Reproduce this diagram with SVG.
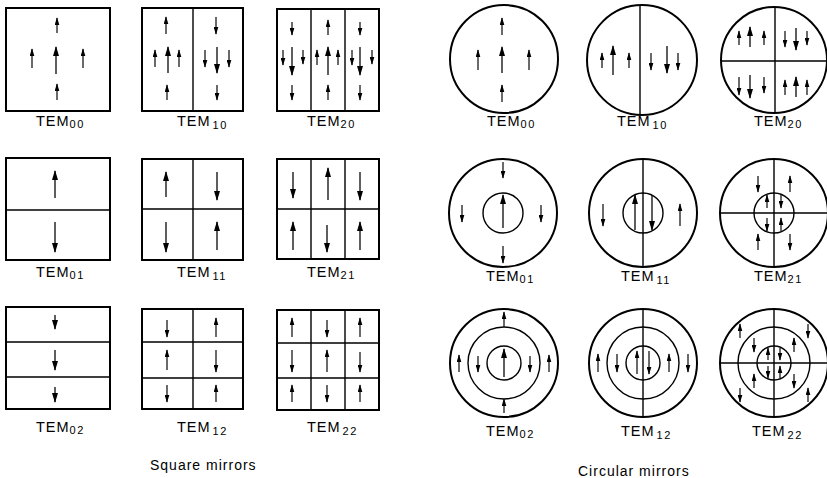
<svg xmlns="http://www.w3.org/2000/svg" width="827" height="478" viewBox="0 0 827 478">
<style>
.f{fill:none;stroke:#000;stroke-width:2}
.d{fill:none;stroke:#000;stroke-width:1.4}
.s{fill:none;stroke:#111;stroke-width:1.25;marker-end:url(#h)}
.b{fill:none;stroke:#111;stroke-width:1.35;marker-end:url(#H)}
text{font-family:"Liberation Sans",Arial,sans-serif;font-size:14.5px;fill:#000;letter-spacing:1px}
.sub{font-size:11px;letter-spacing:1.4px}
.cap{font-size:14px;letter-spacing:1px}
</style>
<defs>
<marker id="h" viewBox="0 0 10 6" refX="9" refY="3" markerWidth="8" markerHeight="5" markerUnits="userSpaceOnUse" orient="auto"><path d="M0,0 L10,3 L0,6 Z"/></marker>
<marker id="H" viewBox="0 0 10 6" refX="9" refY="3" markerWidth="10" markerHeight="6" markerUnits="userSpaceOnUse" orient="auto"><path d="M0,0 L10,3 L0,6 Z"/></marker>
</defs>

<!-- square mirrors -->
<g id="sq00">
<rect class="f" x="6" y="8" width="104" height="103"/>
<path class="s" d="M57 33V18"/><path class="s" d="M32 68V49"/><path class="b" d="M56 74V47"/><path class="s" d="M83 68V49"/><path class="s" d="M57 100V84"/>
<text x="36" y="126">TEM<tspan class="sub" dy="2">00</tspan></text>
</g>
<g id="sq10">
<rect class="f" x="142" y="8" width="101" height="103"/><path class="d" d="M193 8V111"/>
<path class="s" d="M166 34V17"/><path class="s" d="M155 67V50"/><path class="b" d="M168 73V47"/><path class="s" d="M179 67V50"/><path class="s" d="M167 100V85"/>
<path class="s" d="M216 17V34"/><path class="s" d="M205 50V67"/><path class="b" d="M217 47V73"/><path class="s" d="M229 50V67"/><path class="s" d="M217 85V100"/>
<text x="177" y="126">TEM<tspan class="sub" dx="2" dy="3">10</tspan></text>
</g>
<g id="sq20">
<rect class="f" x="277" y="9" width="102" height="102"/><path class="d" d="M311 9V111M345 9V111"/>
<path class="s" d="M292 22V35"/><path class="s" d="M283 50V65"/><path class="b" d="M292 47V75"/><path class="s" d="M303 50V64"/><path class="s" d="M292 85V100"/>
<path class="s" d="M328 35V20"/><path class="s" d="M317 65V50"/><path class="b" d="M328 75V47"/><path class="s" d="M338 65V50"/><path class="s" d="M328 100V85"/>
<path class="s" d="M360 22V35"/><path class="s" d="M352 50V65"/><path class="b" d="M360 47V75"/><path class="s" d="M372 50V64"/><path class="s" d="M360 85V100"/>
<text x="307" y="126">TEM<tspan class="sub" dy="2">20</tspan></text>
</g>
<g id="sq01">
<rect class="f" x="6" y="158" width="104" height="102"/><path class="d" d="M6 210H110"/>
<path class="b" d="M55 198V171"/><path class="b" d="M55 222V252"/>
<text x="36" y="277">TEM<tspan class="sub" dy="2">01</tspan></text>
</g>
<g id="sq11">
<rect class="f" x="142" y="159" width="101" height="101"/><path class="d" d="M193 159V260M142 209H243"/>
<path class="b" d="M166 197V172"/><path class="b" d="M217 172V200"/><path class="b" d="M166 222V252"/><path class="b" d="M217 250V222"/>
<text x="177" y="277">TEM<tspan class="sub" dx="2" dy="3">11</tspan></text>
</g>
<g id="sq21">
<rect class="f" x="277" y="159" width="102" height="100"/><path class="d" d="M311 159V259M345 159V259M277 209H379"/>
<path class="b" d="M293 172V198"/><path class="b" d="M328 200V168"/><path class="b" d="M360 172V200"/>
<path class="b" d="M293 250V222"/><path class="b" d="M327 225V252"/><path class="b" d="M360 250V222"/>
<text x="307" y="277">TEM<tspan class="sub" dy="2">21</tspan></text>
</g>
<g id="sq02">
<rect class="f" x="6" y="307" width="104" height="102"/><path class="d" d="M6 342H110M6 377H110"/>
<path class="b" d="M55 315V329"/><path class="b" d="M55 350V370"/><path class="b" d="M55 387V402"/>
<text x="36" y="432">TEM<tspan class="sub" dy="2">02</tspan></text>
</g>
<g id="sq12">
<rect class="f" x="142" y="309" width="101" height="100"/><path class="d" d="M193 309V409M142 342H243M142 378H243"/>
<path class="s" d="M167 320V337"/><path class="s" d="M216 337V318"/>
<path class="s" d="M167 370V350"/><path class="s" d="M216 350V372"/>
<path class="s" d="M167 385V402"/><path class="s" d="M216 402V385"/>
<text x="177" y="432">TEM<tspan class="sub" dx="2" dy="3">12</tspan></text>
</g>
<g id="sq22">
<rect class="f" x="277" y="310" width="102" height="100"/><path class="d" d="M311 310V410M345 310V410M277 343H379M277 378H379"/>
<path class="s" d="M292 337V318"/><path class="s" d="M327 320V337"/><path class="s" d="M360 337V318"/>
<path class="s" d="M292 350V372"/><path class="s" d="M327 372V350"/><path class="s" d="M360 352V372"/>
<path class="s" d="M292 402V385"/><path class="s" d="M327 385V402"/><path class="s" d="M360 402V385"/>
<text x="307" y="432">TEM<tspan class="sub" dx="2" dy="3">22</tspan></text>
</g>
<text class="cap" x="150" y="470">Square mirrors</text>

<!-- circular mirrors -->
<g id="ci00">
<circle class="f" cx="504" cy="59" r="54"/>
<path class="s" d="M502 35V18"/><path class="s" d="M478 70V50"/><path class="b" d="M502 73V47"/><path class="s" d="M529 70V50"/><path class="s" d="M502 102V85"/>
<text x="487" y="126">TEM<tspan class="sub" dy="2">00</tspan></text>
</g>
<g id="ci10">
<circle class="f" cx="642" cy="60" r="55"/><path class="d" d="M640 5V115"/>
<path class="s" d="M602 68V53"/><path class="b" d="M613 75V46"/><path class="s" d="M629 68V53"/>
<path class="s" d="M651 53V70"/><path class="b" d="M667 46V73"/><path class="s" d="M678 53V70"/>
<text x="617" y="126">TEM<tspan class="sub" dx="2" dy="3">10</tspan></text>
</g>
<g id="ci20">
<circle class="f" cx="774" cy="60" r="53"/><path class="d" d="M775 7V113M721 61H827"/>
<path class="s" d="M739 45V31"/><path class="b" d="M750 47V27"/><path class="s" d="M764 45V31"/>
<path class="s" d="M785 31V47"/><path class="b" d="M796 28V50"/><path class="s" d="M807 31V45"/>
<path class="s" d="M739 77V95"/><path class="b" d="M750 75V98"/><path class="s" d="M764 77V93"/>
<path class="s" d="M785 95V80"/><path class="b" d="M796 97V77"/><path class="s" d="M807 95V80"/>
<text x="754" y="126">TEM<tspan class="sub" dy="2">20</tspan></text>
</g>
<g id="ci01">
<circle class="f" cx="503" cy="213" r="54"/><circle class="d" cx="503" cy="213" r="20"/>
<path class="s" d="M503 162V178"/><path class="s" d="M462 205V222"/><path class="b" d="M503 228V195"/><path class="s" d="M541 205V222"/><path class="s" d="M503 246V263"/>
<text x="486" y="281">TEM<tspan class="sub" dy="2">01</tspan></text>
</g>
<g id="ci11">
<circle class="f" cx="643" cy="213" r="54"/><circle class="d" cx="643" cy="213" r="20"/><path class="d" d="M643 159V267"/>
<path class="s" d="M603 204V226"/><path class="b" d="M635 230V195"/><path class="b" d="M652 195V230"/><path class="s" d="M680 226V204"/>
<text x="621" y="281">TEM<tspan class="sub" dx="2" dy="3">11</tspan></text>
</g>
<g id="ci21">
<circle class="f" cx="774" cy="213" r="54"/><circle class="d" cx="774" cy="213" r="20"/><path class="d" d="M774 159V267M720 213H828"/>
<path class="s" d="M758 176V192"/><path class="s" d="M790 192V176"/>
<path class="s" d="M767 208V195"/><path class="s" d="M781 195V208"/>
<path class="s" d="M767 218V231"/><path class="s" d="M781 231V218"/>
<path class="s" d="M758 250V234"/><path class="s" d="M790 234V250"/>
<text x="754" y="281">TEM<tspan class="sub" dy="2">21</tspan></text>
</g>
<g id="ci02">
<circle class="f" cx="504" cy="363" r="54"/><circle class="d" cx="504" cy="363" r="36"/><circle class="d" cx="504" cy="363" r="17"/>
<path class="s" d="M504 327V312"/><path class="s" d="M459 372V355"/><path class="s" d="M478 356V372"/><path class="b" d="M504 377V349"/><path class="s" d="M530 356V372"/><path class="s" d="M549 372V355"/><path class="s" d="M504 413V399"/>
<text x="486" y="436">TEM<tspan class="sub" dy="2">02</tspan></text>
</g>
<g id="ci12">
<circle class="f" cx="643" cy="363" r="54"/><circle class="d" cx="643" cy="363" r="36"/><circle class="d" cx="643" cy="363" r="17"/><path class="d" d="M643 309V417"/>
<path class="s" d="M598 372V354"/><path class="s" d="M617 354V372"/><path class="s" d="M637 374V351"/><path class="s" d="M649 351V374"/><path class="s" d="M669 372V354"/><path class="s" d="M688 354V372"/>
<text x="621" y="436">TEM<tspan class="sub" dx="2" dy="3">12</tspan></text>
</g>
<g id="ci22">
<circle class="f" cx="774" cy="363" r="54"/><circle class="d" cx="774" cy="363" r="36"/><circle class="d" cx="774" cy="363" r="17"/><path class="d" d="M774 309V417M720 363H828"/>
<path class="s" d="M768 360V348"/><path class="s" d="M780 348V360"/><path class="s" d="M768 366V378"/><path class="s" d="M780 378V366"/>
<path class="s" d="M754 338V352"/><path class="s" d="M794 352V338"/><path class="s" d="M754 388V374"/><path class="s" d="M794 374V388"/>
<path class="s" d="M740 338V324"/><path class="s" d="M808 324V338"/><path class="s" d="M740 388V402"/><path class="s" d="M808 402V388"/>
<text x="752" y="436">TEM<tspan class="sub" dx="2" dy="3">22</tspan></text>
</g>
<text class="cap" x="578" y="476">Circular mirrors</text>
</svg>
